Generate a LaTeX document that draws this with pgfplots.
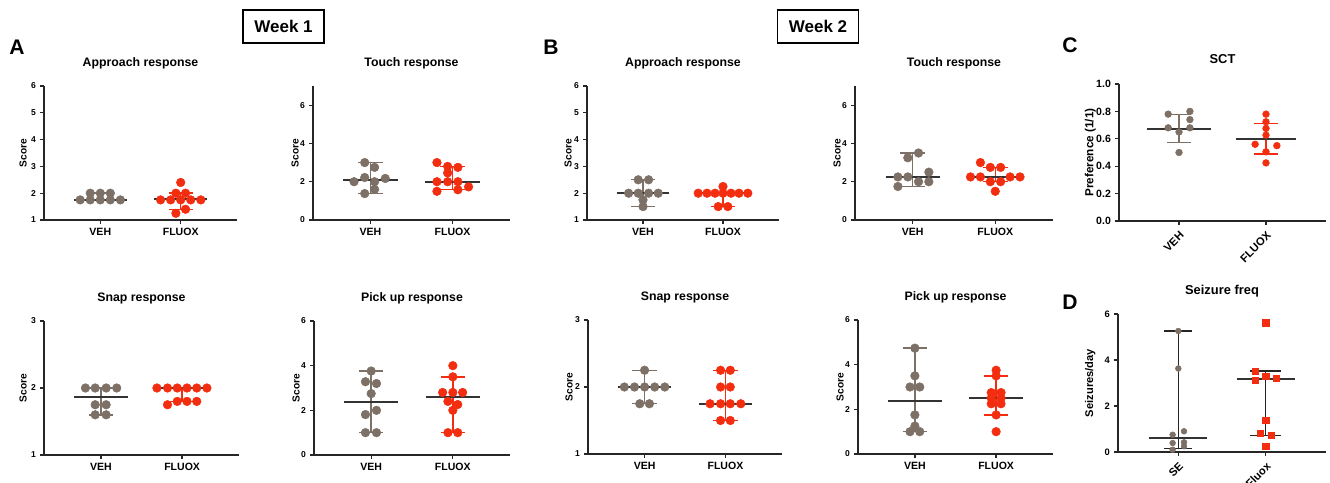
\documentclass[border=0pt]{standalone}
\usepackage{fontspec}
\setmainfont{Liberation Sans}
\usepackage{pgfplots}
\pgfplotsset{compat=1.18}

\definecolor{greyc}{RGB}{125,112,102}
\definecolor{redc}{RGB}{243,45,15}

% 1 px of the reference = 0.3mm
\pgfplotsset{
  prism/.style={
    scale only axis, anchor=south west, clip=false,
    axis lines*=left, unbounded coords=jump,
    axis line style={line width=1.2pt, black!85},
    tick style={line width=1.1pt, black!85},
    tick align=outside, major tick length=1.2mm,
    xtick={1,2}, xmin=0.3, xmax=2.7,
    /pgf/number format/assume math mode=true,
    title style={at={(0.5,1)}, anchor=center, yshift=4.6mm,
      font=\fontsize{10.5}{12}\selectfont\bfseries},
    ylabel style={at={(axis description cs:0,0.5)}, anchor=center,
      font=\fontsize{8.7}{10}\selectfont\bfseries},
    yticklabel style={font=\fontsize{7.3}{8}\selectfont\bfseries},
    xticklabel style={font=\fontsize{9}{10}\selectfont\bfseries},
    xticklabels={VEH,FLUOX}, ylabel={Score},
    height=40.2mm,
  },
  % the label is rotated, so yshift moves it to the left
  score/.style={ylabel style={yshift=#1}},
  gdot/.style={only marks, greyc, mark=*, mark size=3.7pt, mark options={draw=greyc, fill=greyc}},
  rdot/.style={only marks, redc, mark=*, mark size=3.7pt, mark options={draw=redc, fill=redc}},
  gbar/.style={greyc, line width=1.2pt, mark=none},
  rbar/.style={redc, line width=1.2pt, mark=none},
  kbar/.style={black!85, line width=1.2pt, mark=none},
  med/.style={black!80, line width=1.7pt, mark=none},
}

\begin{document}
\begin{tikzpicture}
\useasboundingbox (0,0) rectangle (399mm,144.6mm);

% ---------------- Week labels and panel letters
\node[draw, line width=1pt, minimum width=24.3mm, minimum height=9.9mm,
  font=\fontsize{14.5}{16}\selectfont\bfseries] at (85.05mm,136.65mm) {Week 1};
\node[draw, line width=1pt, minimum width=24.3mm, minimum height=9.9mm,
  font=\fontsize{14.5}{16}\selectfont\bfseries] at (245.4mm,136.65mm) {Week 2};
\node[font=\fontsize{18}{20}\selectfont\bfseries] at (5.1mm,130.35mm) {A};
\node[font=\fontsize{18}{20}\selectfont\bfseries] at (165.3mm,130.5mm) {B};
\node[font=\fontsize{18}{20}\selectfont\bfseries] at (321mm,131.1mm) {C};
\node[font=\fontsize{18}{20}\selectfont\bfseries] at (321mm,54mm) {D};

% ---------------- A: approach
\begin{axis}[prism, score=6.3mm, at={(13.2mm,78.6mm)}, width=57.9mm,
  ymin=1, ymax=6, ytick={1,...,6}, title={Approach response}]
  \addplot[gdot] coordinates {(0.875,2)(1,2)(1.125,2)(0.75,1.75)(0.875,1.75)(1,1.75)(1.125,1.75)(1.25,1.75)};
  \addplot[rdot] coordinates {(2,2.4)(1.94,2)(2.06,2)(1.75,1.75)(1.875,1.75)(2,1.75)(2.125,1.75)(2.25,1.75)(2.06,1.4)(1.94,1.25)};
  \addplot[gbar] coordinates {(0.85,1.75)(1.15,1.75)(1,nan)(1,1.75)(1,2)(1,nan)(0.85,2)(1.15,2)};
  \addplot[rbar] coordinates {(1.85,1.4)(2.15,1.4)(2,nan)(2,1.4)(2,2)(2,nan)(1.85,2)(2.15,2)};
  \addplot[med] coordinates {(0.67,1.75)(1.33,1.75)};
  \addplot[med] coordinates {(1.67,1.775)(2.33,1.775)};
\end{axis}

% ---------------- A: touch
\begin{axis}[prism, score=5.4mm, at={(93.9mm,78.6mm)}, width=59.1mm,
  ymin=0, ymax=7, ytick={0,2,4,6}, title={Touch response}]
  \addplot[gdot] coordinates {(0.93,3.0)(1.05,2.75)(0.8,2.0)(0.93,2.22)(1.05,2.0)(1.18,2.17)(1.05,1.6)(0.93,1.38)};
  \addplot[rdot] coordinates {(1.81,3.0)(1.94,2.8)(2.065,2.75)(1.94,2.46)(1.81,2.0)(1.94,2.0)(2.065,2.0)(2.195,1.73)(1.81,1.5)(2.065,1.58)};
  \addplot[gbar] coordinates {(0.85,1.38)(1.15,1.38)(1,nan)(1,1.38)(1,3.0)(1,nan)(0.85,3.0)(1.15,3.0)};
  \addplot[rbar] coordinates {(1.85,1.58)(2.15,1.58)(2,nan)(2,1.58)(2,2.78)(2,nan)(1.85,2.78)(2.15,2.78)};
  \addplot[med] coordinates {(0.67,2.1)(1.33,2.1)};
  \addplot[med] coordinates {(1.67,2.0)(2.33,2.0)};
\end{axis}

% ---------------- A: snap
\begin{axis}[prism, score=6.3mm, at={(13.2mm,8.1mm)}, width=58.5mm,
  ymin=1, ymax=3, ytick={1,2,3}, title={Snap response}]
  \addplot[gdot] coordinates {(0.81,2)(0.93,2)(1.065,2)(1.195,2)(0.93,1.75)(1.065,1.75)(0.93,1.6)(1.065,1.6)};
  \addplot[rdot] coordinates {(1.69,2)(1.82,2)(1.94,2)(2.06,2)(2.18,2)(2.305,2)(1.94,1.8)(2.06,1.8)(2.18,1.8)(1.82,1.75)};
  \addplot[gbar] coordinates {(0.85,1.6)(1.15,1.6)(1,nan)(1,1.6)(1,2)(1,nan)(0.85,2)(1.15,2)};
  \addplot[rbar] coordinates {(1.85,1.8)(2.15,1.8)(2,nan)(2,1.8)(2,2)(2,nan)(1.85,2)(2.15,2)};
  \addplot[med] coordinates {(0.67,1.87)(1.33,1.87)};
  \addplot[med] coordinates {(1.67,2.0)(2.33,2.0)};
\end{axis}

% ---------------- A: pick up
\begin{axis}[prism, score=5.4mm, at={(94.2mm,8.1mm)}, width=58.8mm,
  ymin=0, ymax=6, ytick={0,2,4,6}, title={Pick up response}]
  \addplot[gdot] coordinates {(1,3.76)(0.93,3.28)(1.065,3.2)(1,2.75)(0.93,1.81)(1.065,2.0)(0.93,1.0)(1.065,1.0)};
  \addplot[rdot] coordinates {(2,4.0)(2,3.5)(1.875,2.8)(2,2.8)(2.12,2.8)(1.94,2.4)(2.06,2.26)(2,2.0)(1.94,1.0)(2.06,1.0)};
  \addplot[gbar] coordinates {(0.85,1.0)(1.15,1.0)(1,nan)(1,1.0)(1,3.76)(1,nan)(0.85,3.76)(1.15,3.76)};
  \addplot[rbar] coordinates {(1.85,1.0)(2.15,1.0)(2,nan)(2,1.0)(2,3.5)(2,nan)(1.85,3.5)(2.15,3.5)};
  \addplot[med] coordinates {(0.67,2.38)(1.33,2.38)};
  \addplot[med] coordinates {(1.67,2.6)(2.33,2.6)};
\end{axis}

% ---------------- B: approach
\begin{axis}[prism, score=5.7mm, at={(176.1mm,78.6mm)}, width=57.6mm,
  ymin=1, ymax=6, ytick={1,...,6}, title={Approach response}]
  \addplot[gdot] coordinates {(0.94,2.5)(1.07,2.5)(0.82,2)(0.94,2)(1.07,2)(1.19,2)(1,1.75)(1,1.5)};
  \addplot[rdot] coordinates {(2,2.25)(1.69,2)(1.8,2)(1.9,2)(2,2)(2.1,2)(2.2,2)(2.31,2)(1.94,1.5)(2.06,1.5)};
  \addplot[gbar] coordinates {(0.85,1.5)(1.15,1.5)(1,nan)(1,1.5)(1,2.5)(1,nan)(0.85,2.5)(1.15,2.5)};
  \addplot[rbar] coordinates {(1.85,1.5)(2.15,1.5)(2,nan)(2,1.5)(2,2)(2,nan)(1.85,2)(2.15,2)};
  \addplot[med] coordinates {(0.67,2.0)(1.33,2.0)};
  \addplot[med] coordinates {(1.67,2.0)(2.33,2.0)};
\end{axis}

% ---------------- B: touch
\begin{axis}[prism, score=5.4mm, at={(256.5mm,78.6mm)}, width=59.4mm,
  ymin=0, ymax=7, ytick={0,2,4,6}, title={Touch response}]
  \addplot[gdot] coordinates {(1.07,3.5)(0.94,3.25)(0.82,2.25)(0.94,2.25)(1.195,2.5)(1.07,2.0)(1.195,2.0)(0.82,1.75)};
  \addplot[rdot] coordinates {(1.82,3.0)(1.94,2.75)(2.065,2.75)(1.7,2.25)(1.82,2.25)(2.18,2.25)(2.3,2.25)(1.94,2.0)(2.065,2.0)(2,1.5)};
  \addplot[gbar] coordinates {(0.85,1.75)(1.15,1.75)(1,nan)(1,1.75)(1,3.5)(1,nan)(0.85,3.5)(1.15,3.5)};
  \addplot[rbar] coordinates {(1.85,2.0)(2.15,2.0)(2,nan)(2,2.0)(2,2.75)(2,nan)(1.85,2.75)(2.15,2.75)};
  \addplot[med] coordinates {(0.67,2.25)(1.33,2.25)};
  \addplot[med] coordinates {(1.67,2.25)(2.33,2.25)};
\end{axis}

% ---------------- B: snap
\begin{axis}[prism, score=5.7mm, at={(176.4mm,8.4mm)}, width=58.2mm,
  ymin=1, ymax=3, ytick={1,2,3}, title={Snap response}]
  \addplot[gdot] coordinates {(1,2.25)(0.75,2)(0.875,2)(1,2)(1.125,2)(1.25,2)(0.94,1.75)(1.06,1.75)};
  \addplot[rdot] coordinates {(1.94,2.25)(2.06,2.25)(1.94,2)(2.06,2)(1.81,1.75)(1.94,1.75)(2.06,1.75)(2.19,1.75)(1.94,1.5)(2.06,1.5)};
  \addplot[gbar] coordinates {(0.85,1.75)(1.15,1.75)(1,nan)(1,1.75)(1,2.25)(1,nan)(0.85,2.25)(1.15,2.25)};
  \addplot[rbar] coordinates {(1.85,1.5)(2.15,1.5)(2,nan)(2,1.5)(2,2.25)(2,nan)(1.85,2.25)(2.15,2.25)};
  \addplot[med] coordinates {(0.67,2.0)(1.33,2.0)};
  \addplot[med] coordinates {(1.67,1.75)(2.33,1.75)};
\end{axis}

% ---------------- B: pick up
\begin{axis}[prism, score=5.4mm, at={(257.4mm,8.4mm)}, width=58.5mm,
  ymin=0, ymax=6, ytick={0,2,4,6}, title={Pick up response}]
  \addplot[gdot] coordinates {(1,4.74)(1,3.5)(0.94,3.0)(1.06,3.0)(1,1.75)(1,1.25)(0.94,1.0)(1.06,1.0)};
  \addplot[rdot] coordinates {(2,3.75)(2,3.5)(1.94,2.75)(2.06,2.75)(1.94,2.5)(2.06,2.5)(1.94,2.25)(2.06,2.25)(2,1.75)(2,1.0)};
  \addplot[gbar] coordinates {(0.85,1.0)(1.15,1.0)(1,nan)(1,1.0)(1,4.74)(1,nan)(0.85,4.74)(1.15,4.74)};
  \addplot[rbar] coordinates {(1.85,1.75)(2.15,1.75)(2,nan)(2,1.75)(2,3.5)(2,nan)(1.85,3.5)(2.15,3.5)};
  \addplot[med] coordinates {(0.67,2.36)(1.33,2.36)};
  \addplot[med] coordinates {(1.67,2.5)(2.33,2.5)};
\end{axis}

% ---------------- C: SCT
\begin{axis}[prism, score=8.6mm, at={(335.7mm,78.3mm)}, width=62.1mm, height=41.1mm,
  xmin=0.31, xmax=2.69, ymin=0, ymax=1, ytick={0,0.2,...,1.0},
  yticklabel style={font=\fontsize{9}{10}\selectfont\bfseries,
    /pgf/number format/.cd, fixed, fixed zerofill, precision=1},
  xticklabel style={rotate=45, anchor=north east, font=\fontsize{9.5}{10}\selectfont\bfseries},
  title style={yshift=0.8mm, font=\fontsize{11}{12}\selectfont\bfseries},
  ylabel style={font=\fontsize{10}{11}\selectfont\bfseries},
  title={SCT}, ylabel={Preference (1/1)}]
  \addplot[gdot, mark size=2.9pt] coordinates {(0.875,0.78)(1.125,0.8)(1.125,0.74)(0.875,0.68)(1.125,0.68)(1,0.65)(1,0.5)};
  \addplot[rdot, mark size=2.9pt] coordinates {(2,0.78)(2,0.724)(2,0.676)(2,0.627)(1.875,0.56)(2.125,0.55)(2,0.505)(2,0.424)};
  \addplot[gbar] coordinates {(0.86,0.571)(1.14,0.571)(1,nan)(1,0.571)(1,0.778)(1,nan)(0.86,0.778)(1.14,0.778)};
  \addplot[rbar] coordinates {(1.86,0.488)(2.14,0.488)(2,nan)(2,0.488)(2,0.712)(2,nan)(1.86,0.712)(2.14,0.712)};
  \addplot[med] coordinates {(0.63,0.673)(1.37,0.673)};
  \addplot[med] coordinates {(1.65,0.598)(2.35,0.598)};
\end{axis}

% ---------------- D: seizure frequency
\begin{axis}[prism, score=8.3mm, at={(335.4mm,9.0mm)}, width=62.4mm, height=41.4mm,
  xmin=0.31, xmax=2.69, ymin=0, ymax=6, ytick={0,2,4,6},
  yticklabel style={font=\fontsize{8}{9}\selectfont\bfseries},
  xticklabel style={rotate=45, anchor=north east, font=\fontsize{9.5}{10}\selectfont\bfseries},
  xticklabels={SE,Fluox},
  title style={font=\fontsize{11}{12}\selectfont\bfseries},
  ylabel style={font=\fontsize{9.5}{11}\selectfont\bfseries},
  title={Seizure freq}, ylabel={Seizures/day}]
  \addplot[gdot, mark size=2.5pt] coordinates {(1,5.26)(1,3.63)(1.065,0.9)(0.935,0.75)(0.935,0.39)(1.065,0.42)(1.065,0.25)(0.935,0.1)};
  \addplot[rdot, mark=square*, mark size=2.6pt] coordinates {(2,5.62)(1.875,3.53)(2,3.31)(2.125,3.19)(1.875,3.14)(2,1.4)(1.935,0.82)(2.065,0.72)(2,0.25)};
  \addplot[kbar] coordinates {(0.84,0.145)(1.16,0.145)(1,nan)(1,0.145)(1,5.26)(1,nan)(0.84,5.26)(1.16,5.26)};
  \addplot[kbar] coordinates {(1.82,0.72)(2.18,0.72)(2,nan)(2,0.72)(2,3.53)(2,nan)(1.82,3.53)(2.18,3.53)};
  \addplot[med] coordinates {(0.67,0.607)(1.33,0.607)};
  \addplot[med] coordinates {(1.67,3.16)(2.33,3.16)};
\end{axis}
\end{tikzpicture}
\end{document}
